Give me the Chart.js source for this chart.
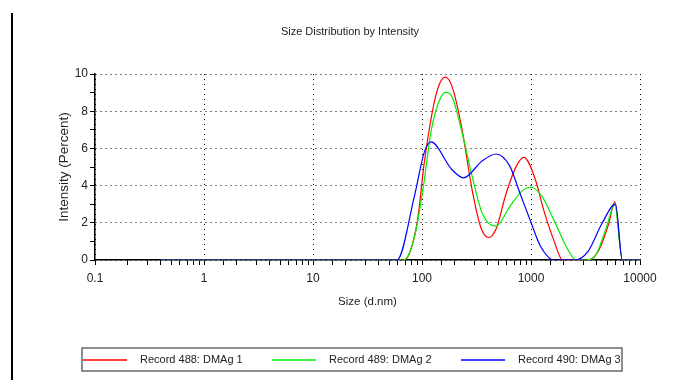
<!DOCTYPE html>
<html>
<head>
<meta charset="utf-8">
<script src="https://cdn.jsdelivr.net/npm/chart.js@4.4.1/dist/chart.umd.min.js"></script>
<style>
  html, body { margin: 0; padding: 0; background: #ffffff; }
  #wrap { width: 679px; height: 380px; }
</style>
</head>
<body>
<div id="wrap"><canvas id="c" width="679" height="380"></canvas></div>
<script>
// ---- data ----
const CHART_TITLE = 'Size Distribution by Intensity';
const X_TITLE = 'Size (d.nm)';
const Y_TITLE = 'Intensity (Percent)';
const SERIES_LABELS = ['Record 488: DMAg 1', 'Record 489: DMAg 2', 'Record 490: DMAg 3'];
const SERIES_COLORS = ['#ff0000', '#00ee00', '#0000ff'];

const SIZES_488 = [0.4, 67, 76, 91, 105, 135, 164, 190, 232, 288, 346, 407, 478, 593, 736, 861, 1096, 1309, 1626, 1950, 3350, 4150, 5164, 5875, 6887, 10000];
const INTENSITY_488 = [0, 0, 0.3, 2.13, 5.25, 8.92, 9.83, 9.28, 7.08, 3.78, 1.76, 1.21, 1.67, 3.6, 5.06, 5.52, 4.33, 2.68, 1.03, 0, 0, 0.48, 1.95, 3.14, 0, 0];

const SIZES_489 = [0.4, 68, 85, 102, 121, 140, 164, 190, 232, 288, 358, 478, 637, 820, 998, 1265, 1626, 2173, 2600, 3162, 3864, 4808, 5875, 6887, 10000];
const INTENSITY_489 = [0, 0, 1.21, 3.78, 6.9, 8.37, 9.01, 8.74, 6.9, 4.52, 2.49, 1.82, 2.86, 3.69, 3.91, 3.41, 2.13, 0.57, 0, 0, 0.2, 1.58, 2.96, 0, 0];

const SIZES_490 = [0.4, 59, 85, 105, 121, 187, 241, 358, 478, 637, 791, 984, 1219, 1622, 2512, 3350, 4467, 5957, 6887, 10000];
const INTENSITY_490 = [0, 0, 3.41, 5.8, 6.35, 4.88, 4.42, 5.34, 5.7, 5.06, 3.6, 2.13, 0.75, 0, 0, 0.48, 1.95, 3.0, 0, 0];

const X_TICK_LABELS = ['0.1', '1', '10', '100', '1000', '10000'];
const Y_TICK_LABELS = ['0', '2', '4', '6', '8', '10'];

// ---- build chart ----
const NARROW = "'Liberation Sans Narrow', 'Arial Narrow', 'Liberation Sans', Arial, sans-serif";
const REGULAR = "'Liberation Sans', Arial, sans-serif";
const TEXT_COLOR = '#222222';

function toXY(xs, ys) { return xs.map((x, i) => ({ x: x, y: ys[i] })); }
function isDecade(v) { const l = Math.log10(v); return Math.abs(l - Math.round(l)) < 1e-6; }

const seriesData = [
  toXY(SIZES_488, INTENSITY_488),
  toXY(SIZES_489, INTENSITY_489),
  toXY(SIZES_490, INTENSITY_490)
];
const drawOrder = [2, 1, 0]; // blue on top

const datasets = seriesData.map((d, i) => ({
  label: SERIES_LABELS[i],
  data: d,
  borderColor: SERIES_COLORS[i],
  backgroundColor: SERIES_COLORS[i],
  borderWidth: 1.2,
  pointRadius: 0,
  fill: false,
  tension: 0.4,
  cubicInterpolationMode: 'monotone',
  order: drawOrder[i]
}));

// decoration: left rule line + boxed legend
const decorPlugin = {
  id: 'decor',
  afterDraw(chart) {
    const ctx = chart.ctx;
    ctx.save();
    ctx.setLineDash([]);
    // left vertical rule
    ctx.strokeStyle = '#000';
    ctx.lineWidth = 2;
    ctx.beginPath();
    ctx.moveTo(12, 13);
    ctx.lineTo(12, 380);
    ctx.stroke();
    // legend box
    const bx = 82, by = 348, bw = 540, bh = 23;
    ctx.strokeStyle = '#6a6a6a';
    ctx.lineWidth = 1.5;
    ctx.strokeRect(bx, by, bw, bh);
    const cy = Math.round(by + bh / 2);
    const starts = [83, 272, 461];
    ctx.font = '11px ' + NARROW;
    ctx.textBaseline = 'middle';
    ctx.textAlign = 'left';
    chart.data.datasets.forEach((ds, i) => {
      const sx = starts[i];
      ctx.strokeStyle = SERIES_COLORS[i];
      ctx.lineWidth = 1.5;
      ctx.beginPath();
      ctx.moveTo(sx, cy);
      ctx.lineTo(sx + 44, cy);
      ctx.stroke();
      ctx.fillStyle = TEXT_COLOR;
      ctx.fillText(ds.label, sx + 57, cy);
    });
    ctx.restore();
  }
};

new Chart(document.getElementById('c'), {
  type: 'line',
  data: { datasets: datasets },
  plugins: [decorPlugin],
  options: {
    responsive: false,
    animation: false,
    events: [],
    layout: { padding: { left: 60, right: 39, top: 0, bottom: 70 } },
    plugins: {
      legend: { display: false },
      tooltip: { enabled: false },
      title: {
        display: true,
        text: CHART_TITLE,
        color: TEXT_COLOR,
        font: { family: NARROW, size: 11, weight: 'normal' },
        padding: { top: 25.5, bottom: 35.3 }
      }
    },
    scales: {
      x: {
        type: 'logarithmic',
        min: 0.1,
        max: 10000,
        afterFit(s) { s.height = 50; },
        border: { display: true, color: '#000', width: 1.5, dash: [1, 4] },
        grid: {
          color: (c) => (c.tick && isDecade(c.tick.value)) ? '#000' : 'rgba(0,0,0,0)',
          lineWidth: 1,
          drawTicks: true,
          tickLength: 5,
          tickColor: '#000',
          tickWidth: 1
        },
        ticks: {
          autoSkip: false,
          maxRotation: 0,
          padding: 6,
          color: TEXT_COLOR,
          font: { family: NARROW, size: 12 },
          callback: (v) => {
            if (!isDecade(v)) return '';
            const idx = Math.round(Math.log10(v)) + 1;
            return X_TICK_LABELS[idx] !== undefined ? X_TICK_LABELS[idx] : '';
          }
        },
        title: {
          display: true,
          text: X_TITLE,
          color: TEXT_COLOR,
          font: { family: NARROW, size: 11.5 },
          padding: { top: 0, bottom: 1 }
        }
      },
      y: {
        type: 'linear',
        min: 0,
        max: 10,
        afterFit(s) { s.width = 35; },
        border: { display: true, color: '#000', width: 1.5, dash: [1, 4] },
        grid: {
          color: (c) => (c.tick && c.tick.value % 2 === 0) ? '#000' : 'rgba(0,0,0,0)',
          lineWidth: 1,
          drawTicks: true,
          tickLength: 5,
          tickColor: '#000',
          tickWidth: 1
        },
        ticks: {
          stepSize: 1,
          autoSkip: false,
          padding: 2,
          color: TEXT_COLOR,
          font: { family: NARROW, size: 12 },
          callback: (v) => (v % 2 === 0) ? Y_TICK_LABELS[v / 2] : ''
        },
        title: {
          display: true,
          text: Y_TITLE,
          color: TEXT_COLOR,
          font: { family: REGULAR, size: 13.5 },
          padding: { top: -4, bottom: 0 }
        }
      }
    }
  }
});
</script>
</body>
</html>
